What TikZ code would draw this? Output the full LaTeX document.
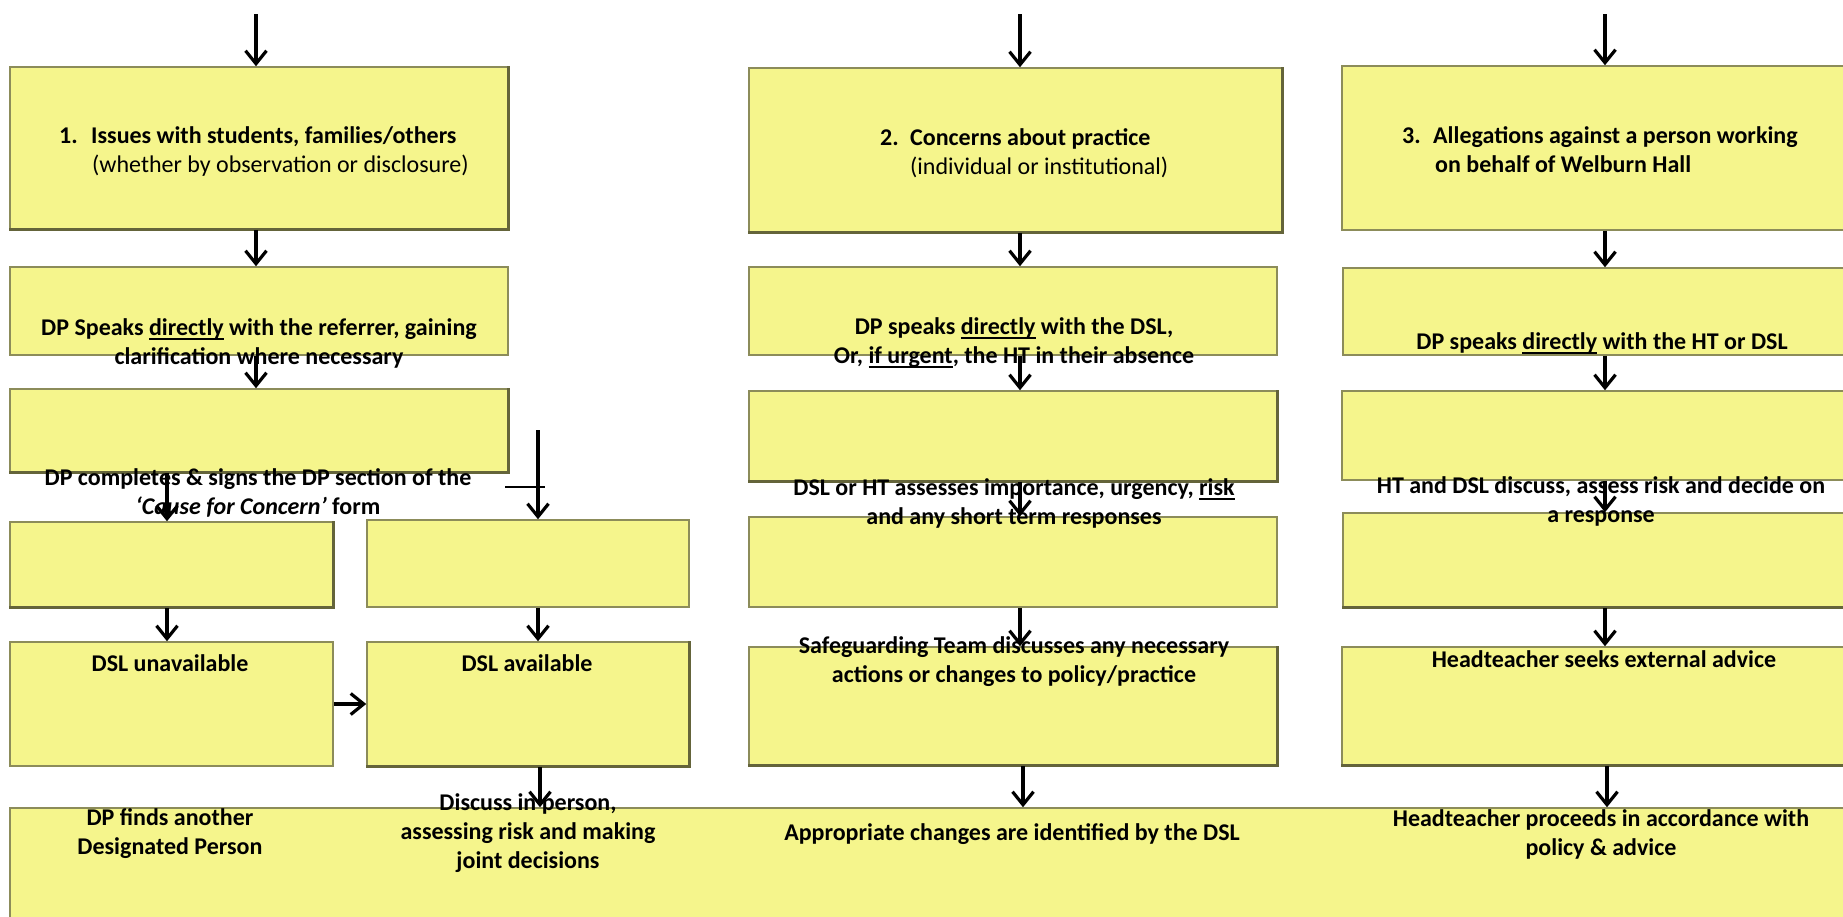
\documentclass[tikz,border=0pt]{standalone}
\usepackage{fontspec}
\setmainfont{Carlito}
\usetikzlibrary{arrows.meta,fit}
\definecolor{boxfill}{RGB}{245,245,140}
\definecolor{boxline}{RGB}{140,140,90}
\definecolor{boxshade}{RGB}{100,100,58}
\newcommand\undl[1]{\setbox0\hbox{#1}\mbox{\rlap{\rule[-4.5pt]{\wd0}{1.8pt}}\box0}}
\begin{document}
\begin{tikzpicture}[x=1pt,y=-1pt,
  box/.style={draw=boxline, line width=1.5pt, fill=boxfill, inner sep=0pt, rectangle},
  arr/.style={line width=3.2pt, -{Straight Barb[length=13pt,width=21pt,line width=3.2pt]}},
  txt/.style={inner sep=0pt, font=\fontsize{24}{29}\selectfont\bfseries, align=center},
  boxshadow/.style={draw=boxshade, line width=2.8pt},
  tick/.style={line width=1.8pt}]
\useasboundingbox (0,0) rectangle (1843,916);
% boxes
\node[box, fit={(10,67) (508,229)}] (A1) {};
\node[box, fit={(10,267) (508,355)}] (A2) {};
\node[box, fit={(10,389) (508,472)}] (A3) {};
\node[box, fit={(10,522) (333,607)}] (B1) {};
\node[box, fit={(10,642) (333,766)}] (B2) {};
\node[box, fit={(367,520) (689,607)}] (C1) {};
\node[box, fit={(367,642) (689,766)}] (C2) {};
\node[box, fit={(749,68) (1282,232)}] (E1) {};
\node[box, fit={(749,267) (1277,355)}] (E2) {};
\node[box, fit={(749,391) (1277,481)}] (E3) {};
\node[box, fit={(749,517) (1277,607)}] (E4) {};
\node[box, fit={(749,647) (1277,765)}] (E5) {};
\node[box, fit={(1342,66) (1860,230)}] (F1) {};
\node[box, fit={(1343,268) (1860,355)}] (F2) {};
\node[box, fit={(1342,391) (1860,480)}] (F3) {};
\node[box, fit={(1343,513) (1860,607)}] (F4) {};
\node[box, fit={(1342,647) (1860,765)}] (F5) {};
\node[box, fit={(10,808) (1860,940)}] (D) {};
\foreach \b in {A1,A3,B1,C2,E1,E3,E5,F4,F5}
  \draw[boxshadow] (\b.north east) -- (\b.south east) -- (\b.south west);
% texts
\node[txt, anchor=west, align=left] (tA1) at (59,152) {\makebox[32pt][l]{1.}Issues with students, families/others\\\hspace*{33pt}\mdseries(whether by observation or disclosure)};
\node[txt, anchor=west, align=left] (tE1) at (880,153) {\makebox[30pt][l]{2.}Concerns about practice\\\hspace*{30pt}\mdseries(individual or institutional)};
\node[txt, anchor=west, align=left] (tF1) at (1402,150) {\makebox[31pt][l]{3.}Allegations against a person working\\\hspace*{33pt}on behalf of Welburn Hall};
\node[txt] (tA2) at (259,343) {DP Speaks \undl{directly} with the referrer, gaining\\clarification where necessary};
\node[txt] (tA3) at (258,493) {DP completes \& signs the DP section of the\\\textit{‘Cause for Concern’} form};
\node[txt] (tB2) at (170,663) {DSL unavailable};
\node[txt] (tC2) at (527,663) {DSL available};
\node[txt] (tDa) at (170,834) {DP finds another\\Designated Person};
\node[txt] (tDb) at (528,833) {Discuss in person,\\assessing risk and making\\joint decisions};
\node[txt] (tE2) at (1014,343) {DP speaks \undl{directly} with the DSL,\\Or, \undl{if urgent}, the HT in their absence};
\node[txt] (tE3) at (1014,503) {DSL or HT assesses importance, urgency, \undl{risk}\\and any short term responses};
\node[txt] (tE5) at (1014,662) {Safeguarding Team discusses any necessary\\actions or changes to policy/practice};
\node[txt] (tDc) at (1012,834) {Appropriate changes are identified by the DSL};
\node[txt] (tF2) at (1602,343) {DP speaks \undl{directly} with the HT or DSL};
\node[txt] (tF3) at (1601,501) {HT and DSL discuss, assess risk and decide on\\a response};
\node[txt] (tF5) at (1604,659) {Headteacher seeks external advice};
\node[txt] (tDd) at (1601,834) {Headteacher proceeds in accordance with\\policy \& advice};
% coordinates
\coordinate (topA) at (256,14);
\coordinate (topE) at (1020,14);
\coordinate (topF) at (1605,14);
\coordinate (xB) at (167,0);
\coordinate (xC) at (538,430);
\coordinate (xCd) at (540,0);
\coordinate (xEd) at (1023,0);
\coordinate (xFd) at (1607,0);
\coordinate (yBC) at (0,704);
\coordinate (tk1) at (505,487);
\coordinate (tk2) at (545,487);
% connectors column 1
\draw[arr] (topA) -- (topA |- A1.north);
\draw[arr] (A1.south -| topA) -- (A2.north -| topA);
\draw[arr] (A2.south -| topA) -- (A3.north -| topA);
\draw[arr] (A3.south -| xB) -- (B1.north -| xB);
\draw[arr] (B1.south -| xB) -- (B2.north -| xB);
\draw[arr] (B2.east |- yBC) -- (C2.west |- yBC);
\draw[arr] (xC) -- (xC |- C1.north);
\draw[tick] (tk1) -- (tk2);
\draw[arr] (C1.south -| xC) -- (C2.north -| xC);
\draw[arr] (C2.south -| xCd) -- (D.north -| xCd);
% column 2
\draw[arr] (topE) -- (topE |- E1.north);
\draw[arr] (E1.south -| topE) -- (E2.north -| topE);
\draw[arr] (E2.south -| topE) -- (E3.north -| topE);
\draw[arr] (E3.south -| topE) -- (E4.north -| topE);
\draw[arr] (E4.south -| topE) -- (E5.north -| topE);
\draw[arr] (E5.south -| xEd) -- (D.north -| xEd);
% column 3
\draw[arr] (topF) -- (topF |- F1.north);
\draw[arr] (F1.south -| topF) -- (F2.north -| topF);
\draw[arr] (F2.south -| topF) -- (F3.north -| topF);
\draw[arr] (F3.south -| topF) -- (F4.north -| topF);
\draw[arr] (F4.south -| topF) -- (F5.north -| topF);
\draw[arr] (F5.south -| xFd) -- (D.north -| xFd);
\end{tikzpicture}
\end{document}
